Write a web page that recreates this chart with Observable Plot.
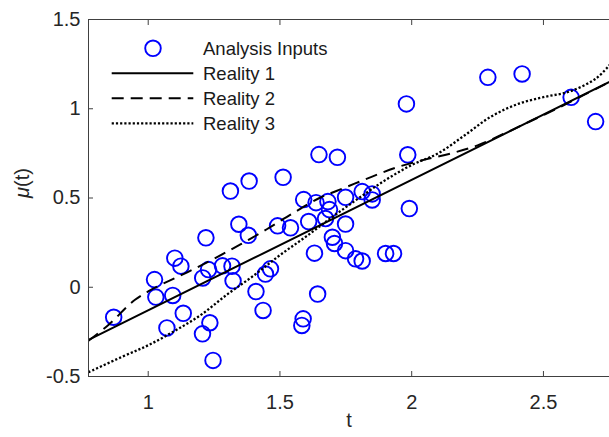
<!DOCTYPE html>
<html>
<head>
<meta charset="utf-8">
<script src="https://cdn.jsdelivr.net/npm/d3@7"></script>
<script src="https://cdn.jsdelivr.net/npm/@observablehq/plot@0.6"></script>
<style>
  html, body { margin: 0; padding: 0; background: #fff; }
  svg { display: block; }
</style>
</head>
<body>
<div id="chart"></div>
<script>
// ---- Data ----
const inputT = [0.869,1.024,1.029,1.101,1.124,1.093,1.133,1.071,1.219,1.207,1.229,1.282,1.318,1.322,1.234,1.206,1.246,1.312,1.383,1.344,1.380,1.409,1.436,1.445,1.464,1.512,1.491,1.540,1.590,1.609,1.631,1.643,1.588,1.583,1.648,1.718,1.637,1.682,1.688,1.673,1.699,1.707,1.749,1.749,1.749,1.787,1.812,1.812,1.850,1.850,1.901,1.931,1.980,1.985,1.991,2.289,2.419,2.605,2.698];
const inputMu = [-0.168,0.043,-0.055,0.163,0.118,-0.046,-0.146,-0.228,0.277,0.052,0.099,0.120,0.118,0.036,-0.199,-0.261,-0.410,0.539,0.595,0.353,0.291,-0.024,-0.130,0.074,0.103,0.616,0.344,0.333,0.491,0.368,0.191,-0.038,-0.177,-0.214,0.743,0.728,0.474,0.480,0.435,0.385,0.280,0.245,0.504,0.354,0.205,0.159,0.147,0.536,0.523,0.489,0.189,0.189,1.027,0.742,0.441,1.176,1.195,1.064,0.928];

const reality1T = [0.7734, 2.7507];
const reality1Mu = [-0.295, 1.150];

const reality2T = [0.7734,0.85,0.95,1.05,1.15,1.25,1.35,1.45,1.55,1.65,1.75,1.85,1.95,2.05,2.15,2.25,2.35,2.45,2.55,2.65,2.7507];
const reality2Mu = [-0.30,-0.21,-0.07,0.015,0.085,0.16,0.24,0.325,0.415,0.50,0.56,0.62,0.675,0.715,0.75,0.795,0.86,0.93,1.0,1.075,1.15];

const reality3T = [0.7734,0.9,1.0,1.1,1.2,1.3,1.4,1.5,1.6,1.7,1.8,1.9,2.0,2.1,2.2,2.3,2.4,2.5,2.6,2.7,2.7507];
const reality3Mu = [-0.476,-0.39,-0.325,-0.245,-0.155,-0.04,0.065,0.18,0.285,0.395,0.50,0.60,0.685,0.75,0.85,0.955,1.025,1.065,1.097,1.17,1.245];

const xDomain = [0.7734, 2.7507];
const yDomain = [-0.5, 1.5];
const xTicks = [1, 1.5, 2, 2.5];
const xTickLabels = ["1", "1.5", "2", "2.5"];
const yTicks = [-0.5, 0, 0.5, 1, 1.5];
const yTickLabels = ["-0.5", "0", "0.5", "1", "1.5"];
const seriesNames = ["Analysis Inputs", "Reality 1", "Reality 2", "Reality 3"];
const xLabel = "t";
const yLabel = "μ(t)";

// ---- Build tables ----
const points = inputT.map((t, i) => ({t, mu: inputMu[i]}));
const toLine = (ts, ms) => ts.map((t, i) => ({t, mu: ms[i]}));
const r1 = toLine(reality1T, reality1Mu);
const r2 = toLine(reality2T, reality2Mu);
const r3 = toLine(reality3T, reality3Mu);

const FONT = "'Liberation Sans', Arial, Helvetica, sans-serif";
const AXIS = "#404040";
const DASH = "12,7";
const DOT = "2.2,2";

const chart = Plot.plot({
  width: 609,
  height: 437,
  marginLeft: 88,
  marginRight: 0,
  marginTop: 19,
  marginBottom: 61,
  x: {domain: xDomain},
  y: {domain: yDomain},
  style: {fontFamily: FONT, fontSize: "20px", color: "#262626", background: "white", overflow: "visible"},
  marks: [
    Plot.dot(points, {x: "t", y: "mu", r: 7.8, stroke: "#0000ff", strokeWidth: 1.9, fill: "none"}),
    Plot.line(r1, {x: "t", y: "mu", stroke: "black", strokeWidth: 2, clip: true}),
    Plot.line(r2, {x: "t", y: "mu", stroke: "black", strokeWidth: 2, strokeDasharray: DASH, strokeLinecap: "butt", curve: "catmull-rom", clip: true}),
    Plot.line(r3, {x: "t", y: "mu", stroke: "black", strokeWidth: 2.3, strokeDasharray: DOT, strokeLinecap: "butt", curve: "catmull-rom", clip: true}),
    Plot.ruleX([xDomain[0]], {stroke: AXIS}),
    Plot.ruleY(yDomain, {stroke: AXIS}),
    Plot.axisX({anchor: "bottom", ticks: xTicks, tickSize: -5, tickPadding: 23, stroke: AXIS,
      tickFormat: d => xTickLabels[xTicks.indexOf(d)], label: null}),
    Plot.axisX({anchor: "top", ticks: xTicks, tickSize: -5, stroke: AXIS, tickFormat: () => "", label: null}),
    Plot.axisY({anchor: "left", ticks: yTicks, tickSize: -5, tickPadding: 13, stroke: AXIS,
      tickFormat: d => yTickLabels[yTicks.indexOf(d)], label: null}),
    Plot.text([xLabel], {text: d => d, frameAnchor: "bottom", dy: 50, fontSize: 20, fill: "#262626"}),
    Plot.text([yLabel], {text: d => d, frameAnchor: "left", dx: -66, rotate: -90, fontSize: 20, fill: "#262626"})
  ]
});

document.getElementById("chart").appendChild(chart);

// italic mu in the y label
const svg = d3.select(chart);
svg.selectAll("text").filter(function() { return this.textContent === yLabel; }).each(function() {
  const el = d3.select(this);
  el.text(null);
  el.append("tspan").attr("font-style", "italic").text("μ");
  el.append("tspan").text("(t)");
});

// legend (MATLAB-style, inside the axes, no box)
const lg = svg.append("g").attr("font-family", FONT).attr("font-size", 18.5)
  .attr("fill", "#1a1a1a").attr("text-anchor", "start");
const rowY = [48.3, 73.3, 98.3, 123.3];
const x0 = 111.7, x1 = 193.3, tx = 203;
lg.append("circle").attr("cx", (x0 + x1) / 2 + 0.5).attr("cy", rowY[0]).attr("r", 7.8)
  .attr("fill", "none").attr("stroke", "#0000ff").attr("stroke-width", 1.9);
const dashes = [null, null, DASH, DOT];
for (let i = 1; i < 4; i++) {
  const l = lg.append("line").attr("x1", x0).attr("x2", x1).attr("y1", rowY[i]).attr("y2", rowY[i])
    .attr("stroke", "black").attr("stroke-width", i === 3 ? 2.3 : 2).attr("stroke-linecap", "butt");
  if (dashes[i]) l.attr("stroke-dasharray", dashes[i]);
}
seriesNames.forEach((s, i) => {
  lg.append("text").attr("x", tx).attr("y", rowY[i]).attr("dy", "0.35em").attr("text-anchor", "start").text(s);
});
</script>
</body>
</html>
